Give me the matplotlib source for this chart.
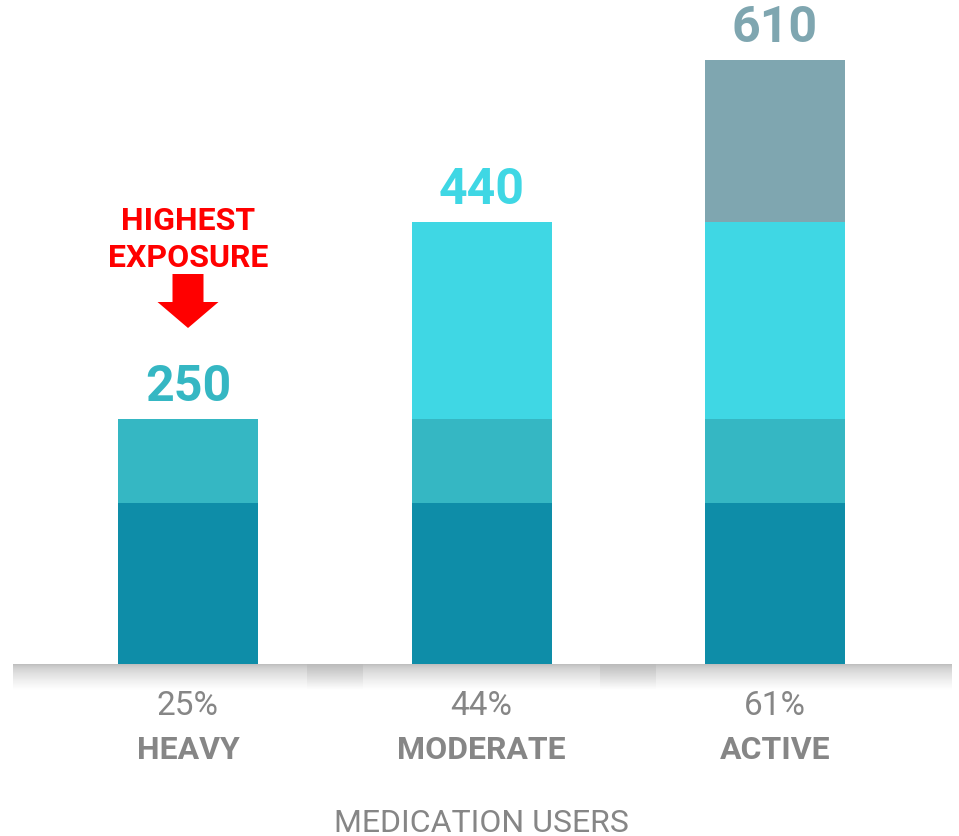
import matplotlib
matplotlib.use("Agg")
import matplotlib.pyplot as plt
import numpy as np
from matplotlib.patches import FancyArrow

plt.rcParams['font.family'] = ['Roboto', 'DejaVu Sans']

# ---- data ----
categories = ["HEAVY", "MODERATE", "ACTIVE"]
percent_labels = ["25%", "44%", "61%"]
total_labels = ["250", "440", "610"]
seg_dark = [163, 163, 163]
seg_mid = [84, 84, 84]
seg_light = [0, 199, 199]
seg_gray = [0, 0, 164]
xlabel = "MEDICATION USERS"
callout = ["HIGHEST", "EXPOSURE"]

c_dark = "#0E8DA8"
c_mid = "#35B7C3"
c_light = "#3FD7E4"
c_gray = "#7FA6B0"
label_colors = [c_mid, c_light, c_gray]
text_gray = "#868686"

W, H = 959, 837
fig = plt.figure(figsize=(W / 100, H / 100), dpi=100)

ax_left = 13 / W
ax_w = (952 - 13) / W
ax_bottom = (H - 665) / H
ax_h = 665 / H
ax = fig.add_axes([ax_left, ax_bottom, ax_w, ax_h])

px_per_x = 293.5
xmin = (13 - 188) / px_per_x
xmax = (952 - 188) / px_per_x
ymax = 665 / 0.99
ax.set_xlim(xmin, xmax)
ax.set_ylim(0, ymax)
ax.axis("off")

x = np.arange(len(categories))
bw = 140 / px_per_x
b = np.zeros(len(categories))
for vals, col in [(seg_dark, c_dark), (seg_mid, c_mid), (seg_light, c_light), (seg_gray, c_gray)]:
    v = np.array(vals, dtype=float)
    ax.bar(x, v, bottom=b, width=bw, color=col, linewidth=0, zorder=3)
    b = b + v

# total labels above bars
for i, (t, c) in enumerate(zip(total_labels, label_colors)):
    ax.annotate(t, xy=(x[i], b[i]), xytext=(0, 14), textcoords="offset points",
                ha="center", va="baseline", fontsize=36, fontweight="bold",
                color=c, annotation_clip=False)

# callout
ax.text(x[0], (665 - 230) / 0.99, callout[0], ha="center", va="baseline",
        fontsize=23, fontweight="bold", color="#FF0000")
ax.text(x[0], (665 - 267) / 0.99, callout[1], ha="center", va="baseline",
        fontsize=23, fontweight="bold", color="#FF0000")
arrow = FancyArrow(x[0], (665 - 275) / 0.99, 0, -(329 - 275) / 0.99,
                   width=31 / px_per_x, head_width=61 / px_per_x,
                   head_length=(329 - 303) / 0.99, length_includes_head=True,
                   color="#FF0000", linewidth=0)
ax.add_patch(arrow)

# baseline shadow
sh_h = 26
sax = fig.add_axes([ax_left, (H - 665 - sh_h) / H, ax_w, sh_h / H])
sax.set_xlim(xmin, xmax)
sax.set_ylim(0, 1)
sax.axis("off")
t = np.linspace(0, 1, 100)[:, None]
base = 0.73 + 0.27 * (t ** 0.6)
img = np.repeat(base, 2, axis=1)
sax.imshow(img, cmap="gray", vmin=0, vmax=1, extent=[xmin, xmax, 0, 1],
           aspect="auto", interpolation="bilinear", zorder=1)
patch = 0.73 + 0.27 * (t ** 1.0)
pimg = np.repeat(patch, 2, axis=1)
pw = 56 / px_per_x
for gx in (x[:-1] + x[1:]) / 2:
    sax.imshow(pimg, cmap="gray", vmin=0, vmax=1,
               extent=[gx - pw / 2, gx + pw / 2, 0, 1],
               aspect="auto", interpolation="bilinear", zorder=2)
sax.set_xlim(xmin, xmax)
sax.set_ylim(0, 1)

def ydata(px_from_top):
    return (665 - px_from_top) / 0.99

for i in range(len(categories)):
    ax.text(x[i], ydata(715), percent_labels[i], ha="center", va="baseline",
            fontsize=24, color=text_gray, clip_on=False)
    ax.text(x[i], ydata(759), categories[i], ha="center", va="baseline",
            fontsize=23, fontweight="bold", color=text_gray, clip_on=False)

ax.text(x[1], ydata(832), xlabel, ha="center", va="baseline",
        fontsize=23, color=text_gray, clip_on=False)

fig.savefig("out.png", dpi=100)
